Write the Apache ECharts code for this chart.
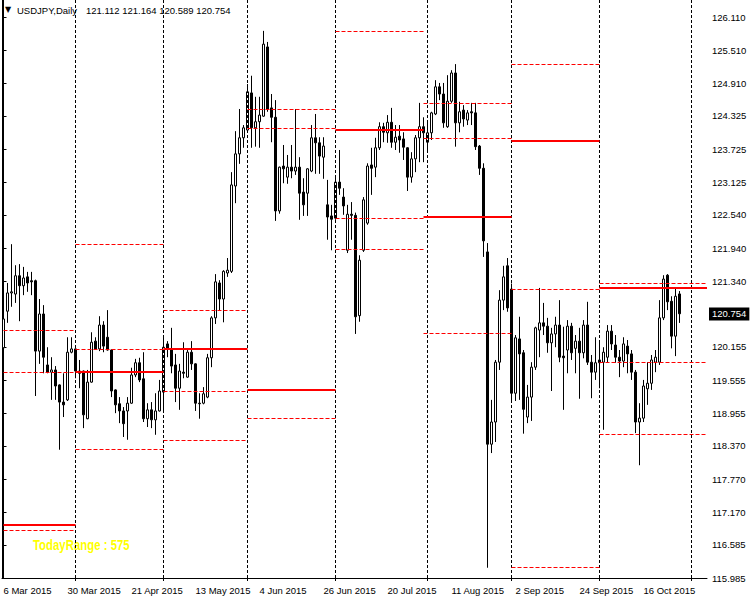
<!DOCTYPE html>
<html><head><meta charset="utf-8">
<script src="https://cdn.jsdelivr.net/npm/echarts@6/dist/echarts.min.js"></script>
<style>html,body{margin:0;padding:0;background:#fff}#c{width:750px;height:600px}</style>
</head><body><div id="c"></div>
<script>
const symbolName = 'USDJPY,Daily';
const xTickLabels = ['6 Mar 2015','30 Mar 2015','21 Apr 2015','13 May 2015','4 Jun 2015','26 Jun 2015','20 Jul 2015','11 Aug 2015','2 Sep 2015','24 Sep 2015','16 Oct 2015'];
const yTickValues = [126.110,125.510,124.910,124.325,123.725,123.125,122.540,121.940,121.340,120.155,119.555,118.955,118.370,117.770,117.170,116.585,115.985];

const open = [120.14,120.80,121.13,121.11,121.44,121.26,121.42,121.35,121.35,120.08,
120.75,119.83,119.70,119.74,119.47,119.16,119.20,120.06,120.12,119.72,
119.72,118.86,119.52,120.26,120.12,120.55,120.33,120.10,119.38,119.13,
119.00,119.00,119.14,119.65,119.87,119.58,118.86,119.02,118.84,119.00,
119.34,120.21,120.12,119.83,119.41,119.70,119.61,120.06,119.85,119.14,
119.14,119.25,119.96,120.68,121.31,121.02,121.49,121.52,123.06,123.64,
123.93,124.07,124.74,124.11,124.22,124.32,125.57,124.47,124.30,122.61,
123.42,123.22,123.40,123.33,123.40,122.95,122.93,123.33,123.93,123.84,
123.58,122.72,122.52,122.48,123.13,122.86,121.90,122.55,122.53,120.72,
121.90,122.39,123.44,123.40,123.75,124.13,124.02,124.21,123.85,123.96,
123.91,123.75,123.22,123.55,123.93,124.13,123.85,124.02,124.36,124.85,
124.72,124.13,124.59,125.10,124.20,124.43,124.25,124.40,124.38,123.78,
123.38,121.87,118.40,118.80,119.88,121.00,121.62,121.20,119.32,120.30,
120.05,118.89,119.25,119.79,120.46,120.59,120.53,120.23,120.39,120.55,
119.99,120.10,120.53,120.13,120.26,120.05,120.55,119.88,119.70,119.87,
119.88,119.97,120.44,120.19,119.97,119.90,120.17,120.03,119.70,118.80,
118.87,119.40,119.50,119.88,119.88,120.68,121.45,120.98,120.35,121.112];
const close = [120.66,121.13,121.15,121.44,121.26,121.40,121.31,121.33,120.08,120.75,
119.97,119.70,119.74,119.45,119.16,119.11,120.06,120.12,119.72,119.68,
118.93,119.52,120.24,120.12,120.55,120.17,120.10,119.36,119.11,119.00,
118.77,119.14,119.65,119.87,119.56,118.86,119.02,118.84,119.00,119.36,
120.15,120.12,119.81,119.41,119.72,119.68,120.06,119.85,119.14,119.13,
119.31,119.96,120.68,121.33,121.02,121.52,121.54,123.08,123.64,123.93,
124.11,124.76,124.11,124.22,124.34,125.62,124.45,124.30,122.61,123.40,
123.37,123.40,123.33,123.40,122.93,122.72,123.37,123.93,123.84,123.60,
123.78,122.50,122.46,123.13,123.02,122.70,122.55,122.53,120.70,121.72,
122.81,123.42,123.38,123.75,124.13,124.03,124.21,123.85,123.94,123.89,
123.76,123.22,123.55,123.93,124.13,124.02,124.02,124.38,124.85,124.72,
124.20,124.59,125.10,124.20,124.40,124.27,124.38,124.38,123.77,123.38,
122.07,118.40,118.80,119.88,121.00,121.42,120.86,119.32,120.32,120.03,
119.03,119.25,119.79,120.50,120.59,120.53,120.23,120.39,120.55,119.97,
119.96,120.53,120.05,120.26,120.05,120.55,119.88,119.70,119.87,119.92,
120.06,120.44,120.21,119.97,119.90,120.21,120.03,119.70,118.80,118.87,
119.45,119.50,119.92,119.97,120.68,121.38,120.97,120.35,121.07,120.754];
const high = [121.27,121.31,122.01,121.63,121.65,121.60,121.51,121.51,121.37,121.02,
120.91,120.15,119.97,119.81,119.48,119.68,120.33,120.33,120.13,119.92,
119.73,119.74,120.42,120.33,120.71,120.62,120.82,120.11,119.39,119.25,
119.07,119.25,119.78,119.94,119.96,120.06,119.14,119.16,119.32,119.56,
120.32,120.26,120.50,120.03,119.85,120.24,120.13,120.26,119.86,119.32,
119.43,120.03,120.71,121.47,121.36,121.54,121.76,123.31,124.05,124.45,
124.16,124.90,125.05,124.67,124.67,125.86,125.66,124.72,124.61,123.41,
123.80,123.62,123.80,124.45,123.58,123.20,123.38,124.16,124.36,123.94,
123.94,123.17,122.72,123.24,123.71,123.02,122.72,122.77,122.58,121.81,
122.86,123.47,123.75,123.93,124.21,124.20,124.34,124.47,124.16,124.16,
124.03,123.76,123.67,123.98,124.56,124.30,124.25,124.40,124.97,124.92,
124.92,125.06,125.15,125.26,124.58,124.52,124.43,124.56,124.56,123.80,
123.47,122.03,119.20,119.92,121.18,121.62,121.76,121.30,120.37,120.70,
120.10,119.47,119.88,120.52,121.22,120.95,120.68,120.50,120.70,121.00,
120.52,120.64,120.59,120.37,120.50,120.64,120.97,120.01,120.33,120.28,
120.15,120.55,120.55,120.37,120.10,120.33,120.28,120.10,119.74,119.14,
119.56,119.88,120.01,120.10,121.00,121.45,121.47,121.07,121.22,121.164];
const low = [119.87,120.59,120.88,120.95,120.62,121.09,121.15,121.09,119.27,119.85,
119.68,119.68,119.20,119.20,118.30,118.89,119.18,120.04,119.59,119.41,
118.69,118.85,119.51,120.10,120.08,120.06,120.09,119.25,118.96,118.78,
118.53,118.48,119.13,119.61,119.52,118.80,118.71,118.69,118.57,118.99,
118.98,119.97,119.68,119.16,119.02,119.59,119.60,119.74,119.00,118.86,
119.12,119.23,119.79,120.57,120.82,120.60,121.42,121.49,122.75,123.46,
123.75,124.06,123.75,123.77,123.75,124.31,124.40,123.85,122.43,122.56,
123.11,123.10,123.20,123.26,122.45,122.52,122.52,123.31,123.28,123.28,
123.19,122.09,121.90,122.45,122.90,122.54,121.85,122.09,120.39,120.61,
121.87,122.36,122.90,123.22,123.71,123.85,123.84,123.75,123.71,123.66,
123.53,122.97,123.12,123.31,123.49,123.49,123.71,123.89,124.34,124.61,
124.11,124.11,124.56,123.77,124.03,124.13,124.16,124.16,123.71,123.26,
121.78,116.17,118.24,118.44,119.74,120.82,120.79,119.18,119.18,119.20,
118.59,118.78,118.82,119.74,119.97,120.37,120.05,119.36,120.15,119.88,
119.02,119.68,119.92,119.68,119.22,119.95,119.83,119.23,119.56,119.41,
118.66,119.88,120.10,119.87,119.61,119.79,119.68,119.56,118.60,118.02,
118.80,119.11,119.38,119.70,119.83,120.64,120.82,120.13,119.99,120.589];

// month separators (bar index) and previous-month levels per month block
const monthSeparators = [18,40,61,83,106,127,149,172];
const pivotStart = [0,18,40,61,83,105,127,149];
const prevOpen  = [116.95,119.70,120.12,119.38,124.07,122.50,123.87,121.22];
const prevHigh  = [120.46,122.01,120.82,124.45,125.86,124.56,125.26,121.31];
const prevLow   = [116.85,118.31,118.48,118.87,121.92,120.41,116.17,118.58];
const prevClose = [119.69,120.12,119.36,124.11,122.48,123.93,121.20,119.87];

const X_MIN = -0.375, X_MAX = 175.875, Y_MIN = 115.985, Y_MAX = 126.417;
const FONT = 'Liberation Sans, Arial, sans-serif';

const candles = open.map((o, i) => [i, o, close[i], low[i], high[i]]);
const last = candles.length - 1;
const ohlcText = [open[last], high[last], low[last], close[last]].map(v => v.toFixed(3)).join(' ');
const todayRange = Math.round((high[last] - low[last]) * 1000);

const lines = [];
monthSeparators.forEach(k => lines.push({xAxis: k, lineStyle: {color: '#000', width: 1, type: [3, 2]}}));
pivotStart.forEach((s, i) => {
  const e = i + 1 < pivotStart.length ? pivotStart[i + 1] : X_MAX;
  const dashed = {color: '#ff0000', width: 1, type: [4, 2]};
  [prevHigh[i], prevLow[i], prevClose[i]].forEach(v => lines.push([{coord: [s, v], lineStyle: dashed}, {coord: [e, v]}]));
  lines.push([{coord: [s, prevOpen[i]], lineStyle: {color: '#ff0000', width: 2, type: 'solid'}}, {coord: [e, prevOpen[i]]}]);
});
const priceLine = {yAxis: close[last], lineStyle: {color: 'rgba(0,0,0,0)', width: 1, type: 'solid'},
  label: {show: true, position: 'end', distance: 2, formatter: () => close[last].toFixed(3),
    backgroundColor: '#000', color: '#fff', padding: [2, 3, 1, 3], fontSize: 9.5, fontFamily: FONT}};

const chart = echarts.init(document.getElementById('c'), null, {renderer: 'svg'});
chart.setOption({
  animation: false,
  backgroundColor: '#fff',
  grid: {left: 2, right: 43, top: 0, bottom: 22},
  xAxis: {
    type: 'value', min: X_MIN, max: X_MAX,
    axisLine: {show: true, lineStyle: {color: '#000', width: 1}},
    axisTick: {show: true, length: 3, customValues: monthSeparators, lineStyle: {color: '#000'}},
    axisLabel: {customValues: xTickLabels.map((_, i) => i * 16), formatter: v => xTickLabels[Math.round(v / 16)],
      align: 'left', color: '#000', fontSize: 9.5, fontFamily: FONT, margin: 7},
    splitLine: {show: false}
  },
  yAxis: [{
    type: 'value', position: 'right', min: Y_MIN, max: Y_MAX,
    axisLine: {show: true, lineStyle: {color: '#000', width: 1}},
    axisTick: {show: true, length: 3, customValues: yTickValues, lineStyle: {color: '#000'}},
    axisLabel: {customValues: yTickValues, formatter: v => v.toFixed(3), color: '#000', fontSize: 9.5, fontFamily: FONT, margin: 5},
    splitLine: {show: false}
  }, {
    type: 'value', position: 'left', min: Y_MIN, max: Y_MAX,
    axisLine: {show: true, lineStyle: {color: '#000', width: 1}},
    axisTick: {show: false}, axisLabel: {show: false}, splitLine: {show: false}
  }],
  series: [{
    type: 'line', z: 1, silent: true, symbol: 'none',
    data: [[X_MIN, Y_MIN]], lineStyle: {width: 0},
    markLine: {silent: true, symbol: ['none', 'none'], label: {show: false}, animation: false, data: lines}
  }, {
    type: 'candlestick', z: 3, silent: true,
    data: candles, encode: {x: 0, y: [1, 2, 3, 4]},
    barWidth: 2,
    itemStyle: {color: '#fff', color0: '#000', borderColor: '#000', borderColor0: '#000', borderColorDoji: '#000', borderWidth: 1}
  }, {
    type: 'line', z: 5, silent: true, symbol: 'none',
    data: [[X_MIN, Y_MIN]], lineStyle: {width: 0},
    markLine: {silent: true, symbol: ['none', 'none'], animation: false, data: [priceLine]}
  }],
  graphic: [
    {type: 'text', left: 5, top: 5, style: {text: '\u25BC', font: '8px DejaVu Sans', fill: '#000'}},
    {type: 'text', left: 17, top: 5, style: {text: symbolName, font: '9.5px ' + FONT, fill: '#000'}},
    {type: 'text', left: 86, top: 5, style: {text: ohlcText, font: '9.5px ' + FONT, fill: '#000'}},
    {type: 'text', left: 33, top: 537, scaleX: 0.76, style: {text: 'TodayRange : ' + todayRange, font: 'bold 15px ' + FONT, fill: '#ffff00'}}
  ]
});
</script>
</body></html>
